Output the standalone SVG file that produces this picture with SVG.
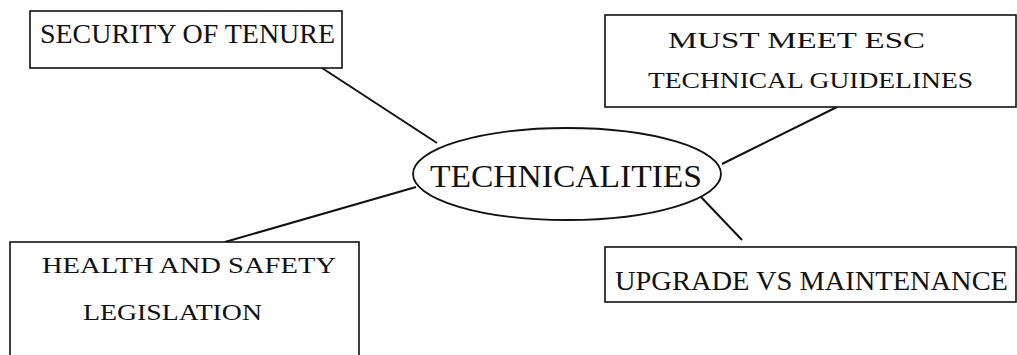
<svg xmlns="http://www.w3.org/2000/svg" width="1017" height="355" viewBox="0 0 1017 355">
<style>
.box{fill:#fff;stroke:#111;stroke-width:1.6}
.el{fill:#fff;stroke:#111;stroke-width:1.8}
.lbl{font-family:"Liberation Serif","DejaVu Serif",serif;fill:#111;font-weight:normal}
.conn line{stroke:#111;stroke-width:2}
</style>
<rect width="1017" height="355" fill="#fff"/>
<g class="conn" id="connectors">
<line x1="322" y1="68" x2="437" y2="143"/>
<line x1="837" y1="107" x2="722" y2="164"/>
<line x1="225" y1="242" x2="416" y2="187"/>
<line x1="701" y1="197" x2="742" y2="240"/>
</g>
<g id="n-tenure">
<rect class="box" x="30" y="11" width="312" height="57"/>
<text class="lbl" x="40" y="43" font-size="27" textLength="295" lengthAdjust="spacingAndGlyphs">SECURITY OF TENURE</text>
</g>
<g id="n-esc">
<rect class="box" x="605" y="15" width="411" height="92"/>
<text class="lbl" x="668" y="48" font-size="24" textLength="257" lengthAdjust="spacingAndGlyphs">MUST MEET ESC</text>
<text class="lbl" x="648" y="88" font-size="24" textLength="325" lengthAdjust="spacingAndGlyphs">TECHNICAL GUIDELINES</text>
</g>
<g id="n-tech">
<ellipse class="el" cx="567" cy="174" rx="154" ry="46"/>
<text class="lbl" x="430" y="187" font-size="32" textLength="272" lengthAdjust="spacingAndGlyphs">TECHNICALITIES</text>
</g>
<g id="n-health">
<rect class="box" x="10" y="242" width="349" height="120"/>
<text class="lbl" x="42" y="273" font-size="23" textLength="294" lengthAdjust="spacingAndGlyphs">HEALTH AND SAFETY</text>
<text class="lbl" x="83" y="320" font-size="23" textLength="179" lengthAdjust="spacingAndGlyphs">LEGISLATION</text>
</g>
<g id="n-upgrade">
<rect class="box" x="605" y="247" width="411" height="55"/>
<text class="lbl" x="615" y="290" font-size="28" textLength="393" lengthAdjust="spacingAndGlyphs">UPGRADE VS MAINTENANCE</text>
</g>
</svg>
